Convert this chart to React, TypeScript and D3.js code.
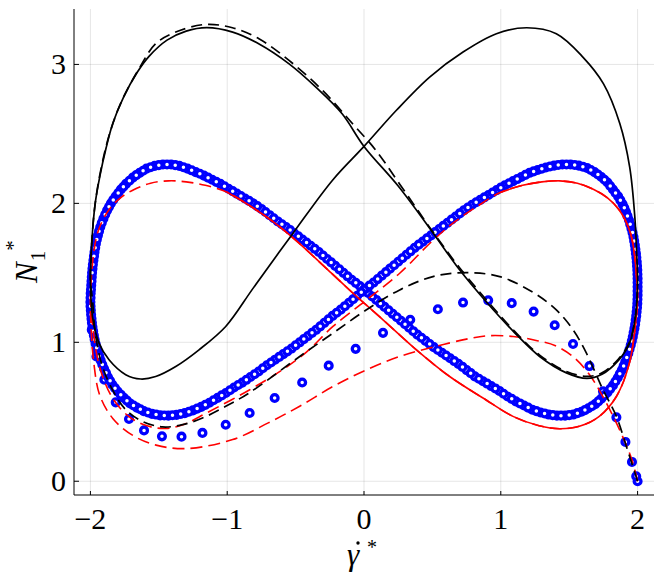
import React from 'react';
import * as d3 from 'd3';

type P = [number, number];

const xTicks = [-2, -1, 0, 1, 2];
const yTicks = [0, 1, 2, 3];

// steady-state loop, model 1 (black solid)
const blackSolid: P[] = [
  [-2.0, 1.45], [-1.99, 1.72], [-1.965, 2.0], [-1.93, 2.2], [-1.885, 2.4], [-1.835, 2.58],
  [-1.76, 2.76], [-1.66, 2.94], [-1.57, 3.06], [-1.44, 3.175], [-1.3, 3.24], [-1.15, 3.265],
  [-0.96, 3.233], [-0.77, 3.149], [-0.55, 3.006], [-0.35, 2.835], [-0.16, 2.645], [0.0, 2.41],
  [0.25, 2.125], [0.51, 1.78], [0.7, 1.52], [0.895, 1.29], [1.1, 1.07], [1.284, 0.898],
  [1.48, 0.78], [1.63, 0.74], [1.74, 0.77], [1.86, 0.87], [1.94, 0.99], [1.985, 1.19],
  [2.0, 1.45], [1.995, 1.6], [1.98, 1.9], [1.942, 2.263], [1.87, 2.575], [1.75, 2.862],
  [1.6, 3.053], [1.406, 3.221], [1.19, 3.264], [0.968, 3.221], [0.724, 3.089], [0.48, 2.909],
  [0.237, 2.67], [0.0, 2.41], [-0.23, 2.167], [-0.52, 1.784], [-0.81, 1.39], [-1.011, 1.114],
  [-1.206, 0.946], [-1.376, 0.826], [-1.523, 0.754], [-1.632, 0.736], [-1.742, 0.767],
  [-1.864, 0.874], [-1.937, 0.994], [-1.985, 1.185], [-2.0, 1.45],
];

// first cycle, model 1 (black dashed)
const blackDashed: P[] = [
  [2.0, 0.0], [1.918, 0.251], [1.845, 0.467], [1.747, 0.659], [1.626, 0.922], [1.528, 1.09],
  [1.406, 1.233], [1.235, 1.36], [0.992, 1.473], [0.749, 1.501], [0.504, 1.473], [0.261, 1.377],
  [0.018, 1.234], [-0.227, 1.066], [-0.47, 0.898], [-0.841, 0.635], [-1.011, 0.539],
  [-1.181, 0.455], [-1.327, 0.407], [-1.474, 0.391], [-1.62, 0.431], [-1.742, 0.515],
  [-1.839, 0.659], [-1.912, 0.826], [-1.961, 1.042], [-1.985, 1.305], [-2.0, 1.45],
  [-1.99, 1.72], [-1.965, 2.0], [-1.92, 2.26], [-1.86, 2.5], [-1.77, 2.74], [-1.65, 2.96],
  [-1.523, 3.149], [-1.376, 3.233], [-1.157, 3.288], [-0.962, 3.264], [-0.768, 3.185],
  [-0.548, 3.029], [-0.304, 2.814], [-0.085, 2.575], [0.086, 2.383], [0.26, 2.14], [0.5, 1.8],
  [0.7, 1.535], [0.9, 1.3], [1.1, 1.08], [1.284, 0.908], [1.48, 0.79], [1.63, 0.755],
  [1.74, 0.78], [1.86, 0.88], [1.94, 1.0], [1.985, 1.19], [2.0, 1.42],
];

// model 2 transient (red dashed, first half cycle)
const redTransient: P[] = [
  [2.0, 0.0], [1.96, 0.15], [1.9, 0.3], [1.82, 0.47], [1.74, 0.62], [1.65, 0.765], [1.53, 0.895],
  [1.4, 0.975], [1.25, 1.015], [1.09, 1.042], [0.9, 1.047], [0.749, 1.023], [0.504, 0.965],
  [0.261, 0.898], [0.018, 0.802], [-0.227, 0.682], [-0.47, 0.54], [-0.7, 0.42], [-0.96, 0.3],
  [-1.3, 0.235], [-1.52, 0.26], [-1.69, 0.33], [-1.835, 0.45], [-1.932, 0.62], [-1.975, 0.85],
  [-1.995, 1.1],
];

// model 2 loop (red dashed, following cycles)
const redLoop: P[] = [
  [-2.0, 1.32], [-1.99, 1.5], [-1.975, 1.65], [-1.95, 1.78], [-1.91, 1.88], [-1.86, 1.96],
  [-1.78, 2.04], [-1.68, 2.1], [-1.56, 2.145], [-1.43, 2.162], [-1.3, 2.155], [-1.16, 2.13],
  [-1.0, 2.08], [-0.83, 1.98], [-0.66, 1.865], [-0.5, 1.735], [-0.24, 1.5], [-0.08, 1.353],
  [0.139, 1.162], [0.383, 0.946], [0.626, 0.754], [0.87, 0.599], [1.089, 0.467], [1.28, 0.4],
  [1.43, 0.378], [1.58, 0.397], [1.72, 0.467], [1.845, 0.61], [1.94, 0.85], [1.99, 1.18],
  [2.0, 1.32], [1.99, 1.5], [1.975, 1.65], [1.95, 1.78], [1.91, 1.88], [1.86, 1.96],
  [1.78, 2.04], [1.68, 2.1], [1.56, 2.145], [1.43, 2.162], [1.3, 2.155], [1.16, 2.13],
  [1.0, 2.08], [0.83, 1.98], [0.66, 1.865], [0.5, 1.73], [0.261, 1.497], [0.018, 1.305],
  [-0.227, 1.114], [-0.421, 0.93], [-0.6, 0.8], [-0.835, 0.659], [-1.152, 0.491],
  [-1.323, 0.407], [-1.45, 0.38], [-1.58, 0.397], [-1.72, 0.467], [-1.845, 0.61],
  [-1.94, 0.85], [-1.99, 1.18], [-2.0, 1.32],
];

// model 2 steady part (red solid)
const redSolid: P[] = [
  [-1.0, 2.08], [-0.83, 1.98], [-0.66, 1.865], [-0.5, 1.735], [-0.24, 1.5], [-0.08, 1.353],
  [0.139, 1.162], [0.383, 0.946], [0.626, 0.754], [0.87, 0.599], [1.089, 0.467], [1.28, 0.4],
  [1.43, 0.378], [1.58, 0.397], [1.72, 0.467], [1.845, 0.61], [1.94, 0.85], [1.99, 1.18],
  [2.0, 1.32], [1.99, 1.5], [1.975, 1.65], [1.95, 1.78], [1.91, 1.88], [1.86, 1.96],
  [1.78, 2.04], [1.68, 2.1], [1.56, 2.145], [1.43, 2.162], [1.3, 2.155], [1.16, 2.13],
  [1.0, 2.08],
];

// measured data, first half cycle (blue circles)
const blueTransient: P[] = [
  [2.0, 0.0], [1.99, 0.036], [1.959, 0.139], [1.911, 0.283], [1.845, 0.46], [1.747, 0.647],
  [1.648, 0.829], [1.528, 0.988], [1.394, 1.123], [1.24, 1.221], [1.08, 1.282], [0.908, 1.302],
  [0.724, 1.286], [0.54, 1.238], [0.338, 1.162], [0.139, 1.068], [-0.061, 0.953], [-0.258, 0.832],
  [-0.452, 0.711], [-0.653, 0.599], [-0.836, 0.491], [-1.011, 0.407], [-1.181, 0.348],
  [-1.334, 0.321], [-1.477, 0.323], [-1.608, 0.366], [-1.718, 0.448], [-1.815, 0.568],
  [-1.898, 0.731], [-1.956, 0.898], [-1.99, 1.09],
];

// measured data, periodic cycle A (blue circles)
const blueLoopA: P[] = [
  [-1.998, 1.353], [-1.994, 1.41], [-1.99, 1.47], [-1.985, 1.53], [-1.978, 1.59], [-1.97, 1.65],
  [-1.96, 1.71], [-1.945, 1.77], [-1.928, 1.83], [-1.905, 1.89], [-1.878, 1.95], [-1.85, 2.0],
  [-1.815, 2.05], [-1.778, 2.1], [-1.74, 2.14], [-1.69, 2.185], [-1.64, 2.22], [-1.59, 2.25],
  [-1.53, 2.27], [-1.47, 2.28], [-1.41, 2.28], [-1.35, 2.27], [-1.29, 2.25], [-1.23, 2.225],
  [-1.17, 2.2], [-1.11, 2.17], [-1.05, 2.14], [-0.99, 2.105], [-0.93, 2.07], [-0.87, 2.035],
  [-0.81, 2.0], [-0.75, 1.96], [-0.69, 1.915], [-0.63, 1.87], [-0.57, 1.83], [-0.51, 1.785],
  [-0.45, 1.74], [-0.39, 1.695], [-0.33, 1.65], [-0.27, 1.6], [-0.21, 1.55], [-0.15, 1.5],
  [-0.09, 1.45], [-0.03, 1.405], [0.03, 1.355], [0.09, 1.305], [0.15, 1.255], [0.21, 1.205],
  [0.27, 1.155], [0.33, 1.105], [0.39, 1.055], [0.45, 1.01], [0.51, 0.965], [0.57, 0.925],
  [0.63, 0.885], [0.69, 0.845], [0.75, 0.8], [0.81, 0.755], [0.87, 0.72], [0.93, 0.685],
  [0.99, 0.65], [1.05, 0.61], [1.11, 0.575], [1.17, 0.545], [1.23, 0.515], [1.29, 0.495],
  [1.35, 0.48], [1.41, 0.472], [1.47, 0.472], [1.53, 0.48], [1.59, 0.5], [1.64, 0.525],
  [1.69, 0.555], [1.735, 0.595], [1.78, 0.64], [1.82, 0.69], [1.855, 0.745], [1.885, 0.8],
  [1.91, 0.86], [1.932, 0.92], [1.95, 0.98], [1.965, 1.04], [1.977, 1.1], [1.986, 1.16],
  [1.993, 1.22], [1.998, 1.28], [2.0, 1.34], [2.0, 1.4], [2.0, 1.46], [1.998, 1.52],
  [1.994, 1.58], [1.988, 1.64], [1.98, 1.7], [1.97, 1.76], [1.955, 1.82], [1.937, 1.88],
  [1.915, 1.94], [1.89, 1.995], [1.858, 2.05], [1.82, 2.1], [1.78, 2.15], [1.735, 2.19],
  [1.685, 2.225], [1.63, 2.255], [1.57, 2.272], [1.51, 2.28], [1.45, 2.28], [1.39, 2.272],
  [1.33, 2.258], [1.27, 2.24], [1.21, 2.22], [1.15, 2.19], [1.09, 2.16], [1.03, 2.13],
  [0.97, 2.095], [0.91, 2.06], [0.85, 2.025], [0.79, 1.99], [0.73, 1.95], [0.67, 1.905],
  [0.61, 1.86], [0.55, 1.815], [0.49, 1.77], [0.43, 1.725], [0.37, 1.68], [0.31, 1.63],
  [0.25, 1.58], [0.19, 1.53], [0.13, 1.48], [0.07, 1.43], [0.01, 1.385], [-0.05, 1.335],
  [-0.11, 1.285], [-0.17, 1.235], [-0.23, 1.19], [-0.29, 1.14], [-0.35, 1.09], [-0.41, 1.045],
  [-0.47, 1.0], [-0.53, 0.955], [-0.59, 0.915], [-0.65, 0.875], [-0.71, 0.835], [-0.77, 0.79],
  [-0.83, 0.75], [-0.89, 0.71], [-0.95, 0.675], [-1.01, 0.635], [-1.07, 0.6], [-1.13, 0.565],
  [-1.19, 0.535], [-1.25, 0.51], [-1.31, 0.49], [-1.37, 0.478], [-1.43, 0.472], [-1.49, 0.474],
  [-1.55, 0.485], [-1.61, 0.505], [-1.66, 0.53], [-1.71, 0.56], [-1.755, 0.6], [-1.8, 0.645],
  [-1.84, 0.695], [-1.872, 0.75], [-1.9, 0.81], [-1.925, 0.87], [-1.945, 0.93], [-1.962, 0.99],
  [-1.975, 1.05], [-1.985, 1.11], [-1.992, 1.17], [-1.997, 1.23], [-2.0, 1.29],
];

// measured data, periodic cycle B (blue circles, samples between those of cycle A)
const blueLoopB: P[] = [
  [-1.996, 1.38], [-1.992, 1.44], [-1.988, 1.5], [-1.982, 1.56], [-1.974, 1.62], [-1.965, 1.68],
  [-1.953, 1.74], [-1.937, 1.8], [-1.917, 1.86], [-1.892, 1.92], [-1.864, 1.975], [-1.833, 2.025],
  [-1.797, 2.075], [-1.759, 2.12], [-1.715, 2.163], [-1.665, 2.203], [-1.615, 2.235], [-1.56, 2.26],
  [-1.5, 2.275], [-1.44, 2.28], [-1.38, 2.275], [-1.32, 2.26], [-1.26, 2.238], [-1.2, 2.213],
  [-1.14, 2.185], [-1.08, 2.155], [-1.02, 2.123], [-0.96, 2.088], [-0.9, 2.053], [-0.84, 2.018],
  [-0.78, 1.98], [-0.72, 1.938], [-0.66, 1.893], [-0.6, 1.85], [-0.54, 1.808], [-0.48, 1.763],
  [-0.42, 1.718], [-0.36, 1.673], [-0.3, 1.625], [-0.24, 1.575], [-0.18, 1.525], [-0.12, 1.475],
  [-0.06, 1.428], [0.0, 1.38], [0.06, 1.33], [0.12, 1.28], [0.18, 1.23], [0.24, 1.18],
  [0.3, 1.13], [0.36, 1.08], [0.42, 1.033], [0.48, 0.988], [0.54, 0.945], [0.6, 0.905],
  [0.66, 0.865], [0.72, 0.823], [0.78, 0.778], [0.84, 0.738], [0.9, 0.703], [0.96, 0.668],
  [1.02, 0.63], [1.08, 0.593], [1.14, 0.56], [1.2, 0.53], [1.26, 0.505], [1.32, 0.488],
  [1.38, 0.476], [1.44, 0.472], [1.5, 0.476], [1.56, 0.49], [1.615, 0.512], [1.665, 0.54],
  [1.713, 0.575], [1.758, 0.618], [1.8, 0.665], [1.838, 0.718], [1.87, 0.773], [1.898, 0.83],
  [1.921, 0.89], [1.941, 0.95], [1.958, 1.01], [1.971, 1.07], [1.982, 1.13], [1.99, 1.19],
  [1.996, 1.25], [1.999, 1.31], [2.0, 1.37], [2.0, 1.43], [1.999, 1.49], [1.996, 1.55],
  [1.991, 1.61], [1.984, 1.67], [1.975, 1.73], [1.963, 1.79], [1.946, 1.85], [1.926, 1.91],
  [1.903, 1.968], [1.874, 2.023], [1.839, 2.075], [1.8, 2.125], [1.758, 2.17], [1.71, 2.208],
  [1.658, 2.24], [1.6, 2.264], [1.54, 2.276], [1.48, 2.28], [1.42, 2.276], [1.36, 2.265],
  [1.3, 2.249], [1.24, 2.23], [1.18, 2.205], [1.12, 2.175], [1.06, 2.145], [1.0, 2.113],
  [0.94, 2.078], [0.88, 2.043], [0.82, 2.008], [0.76, 1.97], [0.7, 1.928], [0.64, 1.883],
  [0.58, 1.838], [0.52, 1.793], [0.46, 1.748], [0.4, 1.703], [0.34, 1.655], [0.28, 1.605],
  [0.22, 1.555], [0.16, 1.505], [0.1, 1.455], [0.04, 1.408], [-0.02, 1.36], [-0.08, 1.31],
  [-0.14, 1.26], [-0.2, 1.213], [-0.26, 1.165], [-0.32, 1.115], [-0.38, 1.068], [-0.44, 1.023],
  [-0.5, 0.978], [-0.56, 0.935], [-0.62, 0.895], [-0.68, 0.855], [-0.74, 0.813], [-0.8, 0.77],
  [-0.86, 0.73], [-0.92, 0.693], [-0.98, 0.655], [-1.04, 0.618], [-1.1, 0.583], [-1.16, 0.55],
  [-1.22, 0.523], [-1.28, 0.5], [-1.34, 0.484], [-1.4, 0.475], [-1.46, 0.473], [-1.52, 0.48],
  [-1.58, 0.495], [-1.635, 0.518], [-1.685, 0.545], [-1.733, 0.58], [-1.778, 0.623], [-1.82, 0.67],
  [-1.856, 0.723], [-1.886, 0.78], [-1.913, 0.84], [-1.935, 0.9], [-1.954, 0.96], [-1.969, 1.02],
  [-1.98, 1.08], [-1.989, 1.14], [-1.995, 1.2], [-1.999, 1.26], [-1.999, 1.32],
];

const FONT = 'Liberation Serif, DejaVu Serif, serif';
const tStyle = { fontFamily: FONT };

function fmt(v: number) {
  return v < 0 ? '\u2212' + Math.abs(v) : String(v);
}

export default function App() {
  const W = 664;
  const H = 581;
  const left = 74, right = 654, top = 9, bottom = 495;
  const x = d3.scaleLinear().domain([-2.12, 2.12]).range([left, right]);
  const y = d3.scaleLinear().domain([-0.099, 3.399]).range([bottom, top]);
  const line = d3
    .line<P>()
    .x((d) => x(d[0]))
    .y((d) => y(d[1]))
    .curve(d3.curveCatmullRom.alpha(0.5));

  const markers = [...blueTransient, ...blueLoopA, ...blueLoopB];

  return (
    <svg
      width={W}
      height={H}
      style={{ position: 'absolute', left: 0, top: 0, background: '#fff' }}
    >
      {/* grid */}
      <g stroke="#000" strokeOpacity={0.1} strokeWidth={1}>
        {xTicks.map((t) => (
          <line key={'gx' + t} x1={x(t)} x2={x(t)} y1={top} y2={bottom} />
        ))}
        {yTicks.map((t) => (
          <line key={'gy' + t} x1={left} x2={right} y1={y(t)} y2={y(t)} />
        ))}
      </g>

      {/* blue markers */}
      <g fill="#fff" stroke="#0000ff" strokeWidth={3.3}>
        {markers.map((d, i) => (
          <circle key={i} cx={x(d[0])} cy={y(d[1])} r={3.4} />
        ))}
      </g>

      {/* red */}
      <path
        d={line([...redTransient, ...redLoop]) || ''}
        fill="none"
        stroke="#ff0000"
        strokeWidth={1.6}
        strokeDasharray="12,6"
      />
      <path d={line(redSolid) || ''} fill="none" stroke="#ff0000" strokeWidth={1.6} />

      {/* black */}
      <path d={line(blackSolid) || ''} fill="none" stroke="#000" strokeWidth={1.7} />
      <path
        d={line(blackDashed) || ''}
        fill="none"
        stroke="#000"
        strokeWidth={1.7}
        strokeDasharray="11,6"
      />

      {/* axes */}
      <line x1={left} x2={left} y1={top} y2={bottom} stroke="#000" strokeWidth={1} />
      <line x1={left} x2={right} y1={bottom} y2={bottom} stroke="#000" strokeWidth={1} />
      {xTicks.map((t) => (
        <line key={'tx' + t} x1={x(t)} x2={x(t)} y1={bottom} y2={bottom - 4} stroke="#000" />
      ))}
      {yTicks.map((t) => (
        <line key={'ty' + t} x1={left} x2={left + 5} y1={y(t)} y2={y(t)} stroke="#000" />
      ))}

      {/* tick labels */}
      {xTicks.map((t) => (
        <text key={'lx' + t} x={x(t)} y={529} fontSize={30} textAnchor="middle" fill="#000" style={tStyle}>
          {fmt(t)}
        </text>
      ))}
      {yTicks.map((t) => (
        <text key={'ly' + t} x={66} y={y(t) + 10} fontSize={30} textAnchor="end" fill="#000" style={tStyle}>
          {fmt(t)}
        </text>
      ))}

      {/* x label: gamma with time-derivative dot accent and superscript star */}
      <text fill="#000" style={tStyle}>
        <tspan x={347} y={565} fontSize={31} fontStyle="italic">{'\u03B3'}</tspan>
        <tspan x={367} y={554} fontSize={20}>*</tspan>
      </text>
      <circle cx={358} cy={543} r={1.7} fill="#000" />

      {/* y label */}
      <text transform="translate(37,283) rotate(-90)" fill="#000" style={tStyle}>
        <tspan fontSize={31} fontStyle="italic">N</tspan>
        <tspan fontSize={21} dy={8} dx={1}>1</tspan>
        <tspan fontSize={21} dy={-25} dx={0}>*</tspan>
      </text>
    </svg>
  );
}
